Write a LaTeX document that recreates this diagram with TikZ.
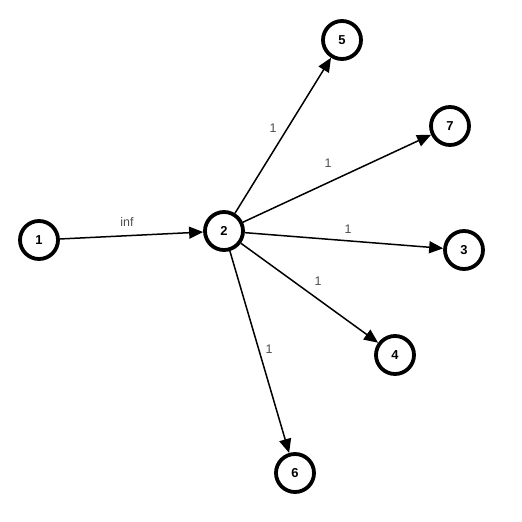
\documentclass[tikz,border=0pt]{standalone}
\usepackage{fontspec}
\setmainfont{Liberation Sans}
\usetikzlibrary{arrows.meta}
\begin{document}
\begin{tikzpicture}[x=1bp,y=-1bp,
  vnode/.style={circle,draw=black,line width=3.8bp,minimum size=38bp,inner sep=0pt,font=\bfseries\fontsize{13}{14}\selectfont},
  edge/.style={line width=1.5bp,-{Triangle[length=14bp,width=12bp]}},
  wlab/.style={font=\fontsize{12.5}{14}\selectfont,text=black!70}]
\useasboundingbox (0,0) rectangle (522,522);
\node[vnode] (n1) at (39,240) {1};
\node[vnode] (n2) at (224,231) {2};
\node[vnode] (n5) at (342,40) {5};
\node[vnode] (n7) at (450,126) {7};
\node[vnode] (n3) at (464,250) {3};
\node[vnode] (n4) at (395,355) {4};
\node[vnode] (n6) at (295,473) {6};
\draw[edge] (n1) -- (n2);
\draw[edge] (n2) -- (n5);
\draw[edge] (n2) -- (n7);
\draw[edge] (n2) -- (n3);
\draw[edge] (n2) -- (n4);
\draw[edge] (n2) -- (n6);
\node[wlab] (l1) at (127,222) {inf};
\node[wlab] (l5) at (273,128) {1};
\node[wlab] (l7) at (328,163) {1};
\node[wlab] (l3) at (348,229) {1};
\node[wlab] (l4) at (318,281) {1};
\node[wlab] (l6) at (269,349) {1};
\end{tikzpicture}
\end{document}
